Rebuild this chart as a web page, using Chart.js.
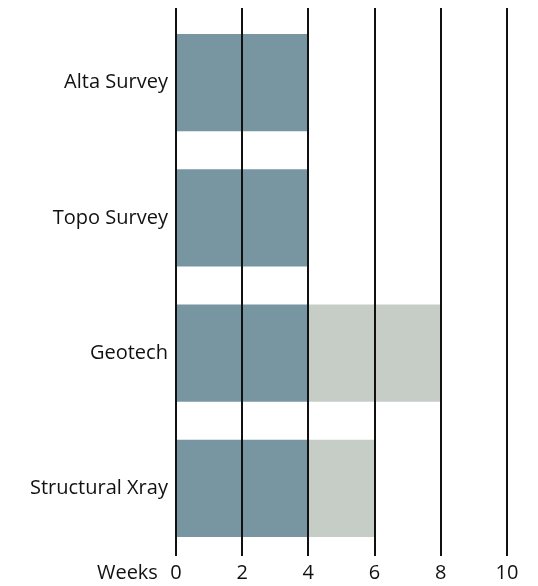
<!DOCTYPE html>
<html>
<head>
<meta charset="utf-8">
<script src="https://cdn.jsdelivr.net/npm/chart.js@4"></script>
<style>
  html, body { margin: 0; padding: 0; background: #fff; }
  #wrap { width: 538px; height: 586px; }
</style>
</head>
<body>
<div id="wrap"><canvas id="chart"></canvas></div>
<script>
const categories = ['Alta Survey', 'Topo Survey', 'Geotech', 'Structural Xray'];
const doneWeeks = [4, 4, 4, 4];
const extraWeeks = [0, 0, 4, 2];
const weekTicks = [0, 2, 4, 6, 8, 10];

const FONT = '"Open Sans", sans-serif';

// vertical lines over the bars, a bit above the plot, plus the "Weeks" label
const gridOnTop = {
    id: 'gridOnTop',
    afterDatasetsDraw(chart) {
        const ctx = chart.ctx;
        const x = chart.scales.x;
        const area = chart.chartArea;
        ctx.save();
        ctx.strokeStyle = '#111';
        ctx.lineWidth = 2;
        weekTicks.forEach(v => {
            const px = Math.round(x.getPixelForValue(v));
            ctx.beginPath();
            ctx.moveTo(px, area.top - 7);
            ctx.lineTo(px, area.bottom);
            ctx.stroke();
        });
        ctx.fillStyle = '#111';
        ctx.font = '20px ' + FONT;
        ctx.textAlign = 'right';
        ctx.textBaseline = 'middle';
        ctx.fillText('Weeks', x.getPixelForValue(0) - 18, area.bottom + 17);
        ctx.restore();
    }
};

new Chart(document.getElementById('chart'), {
    type: 'bar',
    data: {
        labels: categories,
        datasets: [
            { label: 'Done', data: doneWeeks, backgroundColor: '#7895a2' },
            { label: 'Extra', data: extraWeeks, backgroundColor: '#c6cdc6' }
        ]
    },
    options: {
        indexAxis: 'y',
        responsive: true,
        maintainAspectRatio: false,
        animation: false,
        layout: { padding: { top: 15, right: 31, left: 22, bottom: -4 } },
        plugins: {
            legend: { display: false },
            tooltip: { enabled: false }
        },
        scales: {
            x: {
                stacked: true,
                min: 0,
                max: 10,
                afterBuildTicks: axis => { axis.ticks = weekTicks.map(v => ({ value: v })); },
                grid: { display: false, drawTicks: false },
                border: { display: false },
                ticks: { color: '#111', font: { family: FONT, size: 20 }, padding: 5 }
            },
            y: {
                stacked: true,
                grid: { display: false, drawTicks: false },
                border: { display: false },
                ticks: { color: '#111', font: { family: FONT, size: 20 }, padding: 8 },
                afterFit: axis => { axis.paddingTop = 0; axis.paddingBottom = 0; }
            }
        }
    },
    plugins: [gridOnTop]
});
</script>
</body>
</html>
